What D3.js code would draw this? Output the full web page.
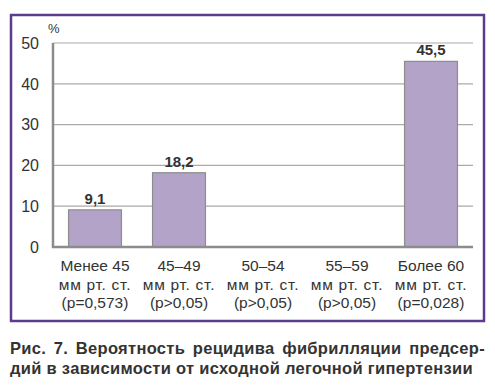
<!DOCTYPE html>
<html lang="ru">
<head>
    <meta charset="UTF-8">
    <title>Рис. 7</title>
    <style>
        body {
            margin: 0;
            background: #fff;
            font-family: "Liberation Sans", Arial, sans-serif;
        }

        #wrap {
            position: relative;
            width: 495px;
            height: 389px;
        }

        #chart {
            position: absolute;
            left: 0;
            top: 0;
        }

        #caption {
            position: absolute;
            left: 10px;
            top: 338px;
            width: 475px;
            font-size: 16.5px;
            font-weight: bold;
            letter-spacing: 0.3px;
            line-height: 20px;
            color: #333;
        }

        #caption .first {
            display: block;
            text-align: justify;
            text-align-last: justify;
        }

        .tick-label {
            font-size: 16px;
            fill: #333;
        }

        .cat-label {
            font-size: 15.5px;
            fill: #333;
        }

        .value-label {
            font-size: 15px;
            font-weight: bold;
            fill: #333;
        }
    </style>
</head>
<body>

<div id="wrap">
    <svg id="chart" width="495" height="389"></svg>
    <div id="caption">
        <span class="first">Рис. 7. Вероятность рецидива фибрилляции предсер-</span>
        <span>дий в зависимости от исходной легочной гипертензии</span>
    </div>
</div>

<script src="https://d3js.org/d3.v7.min.js"></script>
<script>
    // data
    const groups = ["Менее 45", "45–49", "50–54", "55–59", "Более 60"];
    const units = ["мм рт. ст.", "мм рт. ст.", "мм рт. ст.", "мм рт. ст.", "мм рт. ст."];
    const pValues = ["(p=0,573)", "(p>0,05)", "(p>0,05)", "(p>0,05)", "(p=0,028)"];
    const recurrence = [9.1, 18.2, 0, 0, 45.5];
    const yTicks = [0, 10, 20, 30, 40, 50];

    // plot area
    const plotLeft = 53, plotRight = 473, plotTop = 43, plotBottom = 247;

    const svg = d3.select("#chart");

    // purple frame
    svg.append("rect")
        .attr("x", 11)
        .attr("y", 15)
        .attr("width", 473)
        .attr("height", 306)
        .attr("fill", "none")
        .attr("stroke", "#5b3b8c")
        .attr("stroke-width", 2.5);

    const x = d3.scaleBand()
        .domain(groups)
        .range([plotLeft, plotRight])
        .paddingInner(0.37)
        .paddingOuter(0.185);

    const y = d3.scaleLinear()
        .domain([0, 50])
        .range([plotBottom, plotTop]);

    // gridlines
    svg.append("g")
        .selectAll("line")
        .data(yTicks.filter(d => d > 0))
        .join("line")
        .attr("x1", plotLeft)
        .attr("x2", plotRight)
        .attr("y1", d => y(d))
        .attr("y2", d => y(d))
        .attr("stroke", "#aaa")
        .attr("stroke-width", 1.2);

    // y tick labels
    svg.append("g")
        .selectAll("text")
        .data(yTicks)
        .join("text")
        .attr("class", "tick-label")
        .attr("x", 39)
        .attr("y", d => y(d))
        .attr("dy", "0.36em")
        .attr("text-anchor", "end")
        .text(d => d);

    svg.append("text")
        .attr("x", 48)
        .attr("y", 33)
        .attr("font-size", 13)
        .attr("fill", "#333")
        .text("%");

    // bars
    svg.append("g")
        .selectAll("rect")
        .data(recurrence)
        .join("rect")
        .attr("x", (d, i) => x(groups[i]))
        .attr("y", d => y(d))
        .attr("width", x.bandwidth())
        .attr("height", d => y(0) - y(d))
        .attr("fill", "#b3a3c9")
        .attr("stroke", "#8c8c8c")
        .attr("stroke-width", 1.2);

    // value labels
    svg.append("g")
        .selectAll("text")
        .data(recurrence)
        .join("text")
        .attr("class", "value-label")
        .attr("x", (d, i) => x(groups[i]) + x.bandwidth() / 2)
        .attr("y", d => y(d) - 6)
        .attr("text-anchor", "middle")
        .text(d => d > 0 ? d.toFixed(1).replace(".", ",") : "");

    // axis lines
    svg.append("line")
        .attr("x1", plotLeft)
        .attr("x2", plotLeft)
        .attr("y1", plotTop)
        .attr("y2", plotBottom + 1)
        .attr("stroke", "#8c8c8c")
        .attr("stroke-width", 2.5);

    svg.append("line")
        .attr("x1", plotLeft - 1)
        .attr("x2", plotRight)
        .attr("y1", plotBottom)
        .attr("y2", plotBottom)
        .attr("stroke", "#8c8c8c")
        .attr("stroke-width", 2.5);

    // category labels, three lines each
    const cat = svg.append("g")
        .selectAll("text")
        .data(groups)
        .join("text")
        .attr("class", "cat-label")
        .attr("text-anchor", "middle")
        .attr("x", d => x(d) + x.bandwidth() / 2)
        .attr("y", 271);

    cat.append("tspan")
        .attr("x", d => x(d) + x.bandwidth() / 2)
        .text(d => d);

    cat.append("tspan")
        .attr("x", d => x(d) + x.bandwidth() / 2)
        .attr("dy", 18.7)
        .attr("letter-spacing", "0.7px")
        .text((d, i) => units[i]);

    cat.append("tspan")
        .attr("x", d => x(d) + x.bandwidth() / 2)
        .attr("dy", 18.7)
        .text((d, i) => pValues[i]);
</script>

</body>
</html>
